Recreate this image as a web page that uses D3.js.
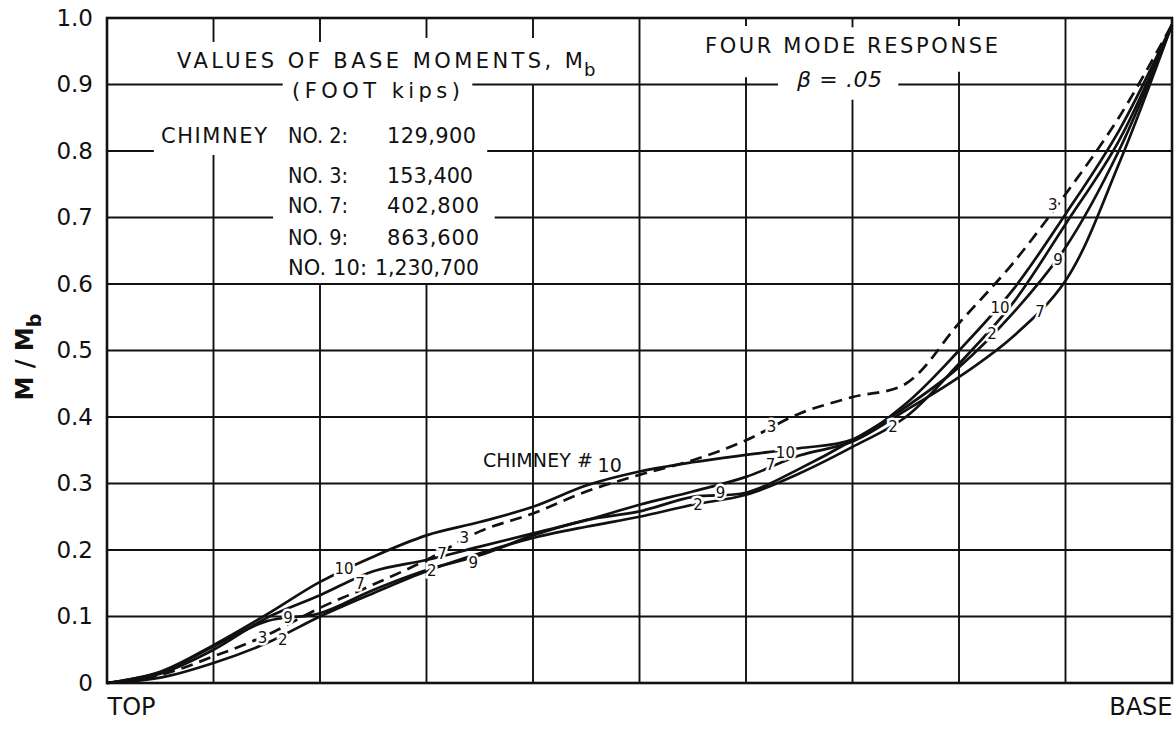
<!DOCTYPE html>
<html>
<head>
<meta charset="utf-8">
<script src="https://cdn.jsdelivr.net/npm/d3@7"></script>
<style>
  body { margin: 0; background: #fff; }
  text { font-family: "DejaVu Sans", sans-serif; fill: #111; }
</style>
</head>
<body>
<div id="vizcont"></div>
<script>
// position along chimney, top (0) to base (1)
var xPos = [0, 0.05, 0.1, 0.15, 0.2, 0.25, 0.3, 0.35, 0.4, 0.45, 0.5,
            0.55, 0.6, 0.65, 0.7, 0.75, 0.8, 0.85, 0.9, 0.95, 1.0];

// M / Mb for each chimney
var chim2  = [0, 0.008, 0.03, 0.06, 0.10, 0.135, 0.168, 0.195, 0.218, 0.235, 0.25,
              0.268, 0.283, 0.315, 0.355, 0.40, 0.48, 0.57, 0.69, 0.815, 0.99];
var chim3  = [0, 0.012, 0.04, 0.072, 0.113, 0.148, 0.185, 0.228, 0.255, 0.288, 0.313,
              0.335, 0.365, 0.405, 0.43, 0.45, 0.541, 0.63, 0.735, 0.85, 0.99];
var chim7  = [0, 0.014, 0.05, 0.098, 0.132, 0.168, 0.185, 0.205, 0.225, 0.245, 0.268,
              0.288, 0.31, 0.342, 0.363, 0.41, 0.46, 0.52, 0.605, 0.78, 0.99];
var chim9  = [0, 0.016, 0.055, 0.093, 0.105, 0.14, 0.17, 0.192, 0.222, 0.245, 0.258,
              0.28, 0.286, 0.322, 0.365, 0.415, 0.475, 0.555, 0.655, 0.80, 0.99];
var chim10 = [0, 0.017, 0.057, 0.103, 0.152, 0.19, 0.222, 0.242, 0.265, 0.297, 0.318,
              0.332, 0.343, 0.353, 0.366, 0.42, 0.50, 0.59, 0.705, 0.83, 0.99];

var seriesNames = ["2", "3", "7", "9", "10"];
var seriesVals  = [chim2, chim3, chim7, chim9, chim10];
var dashedSeries = ["3"];

var yTicks = [0, 0.1, 0.2, 0.3, 0.4, 0.5, 0.6, 0.7, 0.8, 0.9, 1.0];
var yTickLabels = ["0", "0.1", "0.2", "0.3", "0.4", "0.5", "0.6", "0.7", "0.8", "0.9", "1.0"];
var xEnds = [0, 1];
var xEndLabels = ["TOP", "BASE"];

// numbers written on the curves
var labelText = ["10", "7", "9", "3", "2", "7", "3", "2", "9", "10", "2", "9", "7", "10", "3",
                 "2", "2", "10", "7", "9", "3"];
var labelX = [0.2225, 0.2375, 0.170, 0.146, 0.165, 0.3145, 0.3355, 0.305, 0.344, 0.472, 0.555,
              0.576, 0.623, 0.637, 0.624, 0.738, 0.831, 0.8385, 0.876, 0.893, 0.888];
var labelY = [0.172, 0.149, 0.099, 0.069, 0.066, 0.1945, 0.218, 0.169, 0.181, 0.328, 0.268,
              0.287, 0.328, 0.346, 0.385, 0.385, 0.526, 0.564, 0.558, 0.636, 0.719];

// legend table of base moments
var tableNames  = ["NO. 2:", "NO. 3:", "NO. 7:", "NO. 9:", "NO. 10:"];
var tableValues = ["129,900", "153,400", "402,800", "863,600", "1,230,700"];

// set the perimeters
var width = 1176, height = 731;
var margin = {top: 18, right: 4, bottom: 48, left: 107};

var svg = d3.select("#vizcont")
    .append("svg")
    .attr("width", width)
    .attr("height", height);

var x = d3.scaleLinear().domain([0, 1]).range([margin.left, width - margin.right]);
var y = d3.scaleLinear().domain([0, 1]).range([height - margin.bottom, margin.top]);

// grid, broken where the lettering sits
var vGrid = [
  {v: 0.1, spans: [[0, 0.794], [0.964, 1]]},
  {v: 0.2, spans: [[0, 0.6], [0.964, 1]]},
  {v: 0.3, spans: [[0, 0.6], [0.97, 1]]},
  {v: 0.4, spans: [[0, 0.9], [0.97, 1]]},
  {v: 0.5, spans: [[0, 1]]},
  {v: 0.6, spans: [[0, 0.911], [0.988, 1]]},
  {v: 0.7, spans: [[0, 0.877], [0.986, 1]]},
  {v: 0.8, spans: [[0, 0.919], [0.988, 1]]},
  {v: 0.9, spans: [[0, 1]]}
];
var hGrid = [
  {v: 0.1, spans: [[0, 1]]},
  {v: 0.2, spans: [[0, 1]]},
  {v: 0.3, spans: [[0, 1]]},
  {v: 0.4, spans: [[0, 1]]},
  {v: 0.5, spans: [[0, 1]]},
  {v: 0.6, spans: [[0, 1]]},
  {v: 0.7, spans: [[0, 0.156], [0.364, 1]]},
  {v: 0.8, spans: [[0, 0.044], [0.357, 1]]},
  {v: 0.9, spans: [[0, 0.165], [0.343, 0.63], [0.743, 1]]}
];

var grid = svg.append("g").attr("stroke", "#111").attr("stroke-width", 1.9);
vGrid.forEach(function(g) {
  g.spans.forEach(function(s) {
    grid.append("line")
      .attr("x1", x(g.v)).attr("x2", x(g.v))
      .attr("y1", y(s[0])).attr("y2", y(s[1]));
  });
});
hGrid.forEach(function(g) {
  g.spans.forEach(function(s) {
    grid.append("line")
      .attr("y1", y(g.v)).attr("y2", y(g.v))
      .attr("x1", x(s[0])).attr("x2", x(s[1]));
  });
});

// frame
svg.append("rect")
  .attr("x", x(0)).attr("y", y(1))
  .attr("width", x(1) - x(0)).attr("height", y(0) - y(1))
  .attr("fill", "none").attr("stroke", "#111").attr("stroke-width", 2.6);

// axes
var yAxis = svg.append("g")
  .attr("transform", "translate(" + x(0) + ",0)")
  .call(d3.axisLeft(y).tickValues(yTicks).tickSize(0).tickPadding(14)
        .tickFormat(function(d, i) { return yTickLabels[i]; }));
yAxis.select(".domain").remove();
yAxis.selectAll("text").style("font-size", "23px").attr("fill", "#111");

var xAxis = svg.append("g")
  .attr("transform", "translate(0," + y(0) + ")")
  .call(d3.axisBottom(x).tickValues(xEnds).tickSize(0).tickPadding(15)
        .tickFormat(function(d, i) { return xEndLabels[i]; }));
xAxis.select(".domain").remove();
xAxis.selectAll("text")
  .style("font-size", "24px").attr("fill", "#111")
  .attr("text-anchor", function(d) { return d === 0 ? "start" : "end"; });

// y title
var yt = svg.append("text")
  .attr("transform", "translate(33," + y(0.49) + ") rotate(-90)")
  .attr("text-anchor", "middle")
  .style("font-size", "24px").style("font-weight", "bold");
yt.append("tspan").text("M / M");
yt.append("tspan").attr("dy", 8).style("font-size", "19px").text("b");

// curves
var line = d3.line()
  .x(function(d) { return x(d[0]); })
  .y(function(d) { return y(d[1]); })
  .curve(d3.curveCatmullRom.alpha(0.5));

seriesNames.forEach(function(name, i) {
  var pts = xPos.map(function(v, j) { return [v, seriesVals[i][j]]; });
  svg.append("path")
    .datum(pts)
    .attr("d", line)
    .attr("fill", "none")
    .attr("stroke", "#111")
    .attr("stroke-width", 2.7)
    .attr("stroke-linejoin", "round")
    .attr("stroke-dasharray", dashedSeries.indexOf(name) >= 0 ? "12,7" : null);
});

// curve numbers with a white halo so the lines break round them
svg.append("g").selectAll("text")
  .data(labelText)
  .enter()
  .append("text")
    .attr("x", function(d, i) { return x(labelX[i]); })
    .attr("y", function(d, i) { return y(labelY[i]); })
    .attr("dy", "0.36em")
    .attr("text-anchor", "middle")
    .style("font-size", function(d, i) { return i === 9 ? "19px" : "15px"; })
    .style("paint-order", "stroke")
    .attr("stroke", "#fff").attr("stroke-width", 5)
    .text(function(d) { return d; });

// lettering, fitted to the widths of the original
function note(txt, xv, yv, len, size) {
  var t = svg.append("text")
    .attr("x", x(xv)).attr("y", y(yv))
    .style("font-size", size + "px")
    .text(txt);
  if (len) {
    var natural = t.node().getComputedTextLength();
    t.attr("textLength", len)
     .attr("lengthAdjust", natural < len ? "spacing" : "spacingAndGlyphs");
  }
  return t;
}

note("VALUES  OF  BASE  MOMENTS, M", 0.0657, 0.9248, 406, 21);
note("b", 0.448, 0.9128, null, 18);
note("(FOOT   kips)", 0.1737, 0.8797, 168, 21);
note("CHIMNEY", 0.0507, 0.812, 106, 21);

var rowY = [0.812, 0.752, 0.707, 0.659, 0.6135];
var rowNameLen = [60, 60, 60, 60, 79];
var rowValX = [0.263, 0.263, 0.263, 0.263, 0.2516];
var rowValLen = [89, 86, 92, 92, 104];
tableNames.forEach(function(n, i) {
  note(n, 0.17, rowY[i], rowNameLen[i], 21);
  note(tableValues[i], rowValX[i], rowY[i], rowValLen[i], 21);
});

note("FOUR  MODE  RESPONSE", 0.5615, 0.947, 293, 21);
note("\u03b2 = .05", 0.648, 0.896, 85, 22).style("font-style", "italic");
note("CHIMNEY #", 0.353, 0.325, 110, 19);
</script>
</body>
</html>
